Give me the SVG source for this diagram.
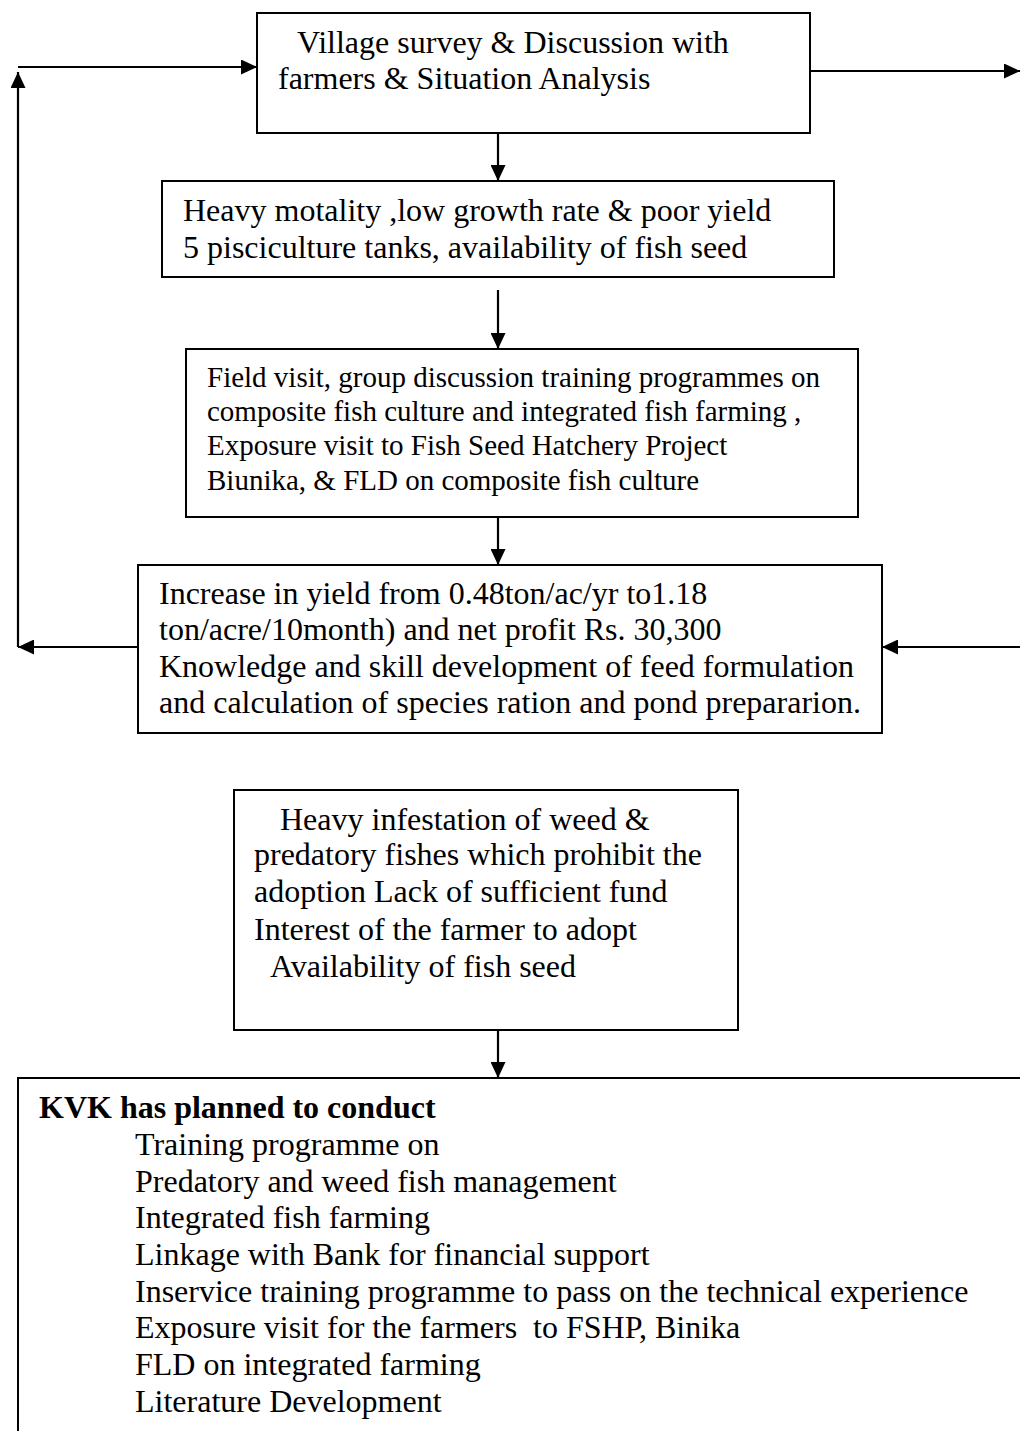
<svg xmlns="http://www.w3.org/2000/svg" width="1020" height="1431" viewBox="0 0 1020 1431">
<style>
.box{fill:#fff;stroke:#000;stroke-width:2}
.t{font-family:"Liberation Serif","Times New Roman",serif;font-size:32px;fill:#000}
.s{font-size:29px}
.b{font-weight:bold}
.c{fill:none;stroke:#000;stroke-width:2.2}
</style>
<defs>
<marker id="ah" viewBox="0 0 16 15" refX="16" refY="7.5" markerWidth="16" markerHeight="15" markerUnits="userSpaceOnUse" orient="auto">
<path d="M0,0 L16,7.5 L0,15 Z" fill="#000"/>
</marker>
</defs>
<rect width="1020" height="1431" fill="#fff"/>
<g id="connectors">
<path class="c" d="M18,67 L257,67" marker-end="url(#ah)"/>
<path class="c" d="M18,647 L18,72" marker-end="url(#ah)"/>
<path class="c" d="M138,647 L18,647" marker-end="url(#ah)"/>
<path class="c" d="M810,71 L1020,71" marker-end="url(#ah)"/>
<path class="c" d="M1020,647 L882,647" marker-end="url(#ah)"/>
<path class="c" d="M498,133 L498,181" marker-end="url(#ah)"/>
<path class="c" d="M498,290 L498,349" marker-end="url(#ah)"/>
<path class="c" d="M498,517 L498,565" marker-end="url(#ah)"/>
<path class="c" d="M498,1030 L498,1078" marker-end="url(#ah)"/>
</g>
<g id="n1">
<rect class="box" x="257" y="13" width="553" height="120"/>
<text class="t" x="297" y="53">Village survey &amp; Discussion with</text>
<text class="t" x="278" y="89">farmers &amp; Situation Analysis</text>
</g>
<g id="n2">
<rect class="box" x="162" y="181" width="672" height="96"/>
<text class="t" x="183" y="221">Heavy motality ,low growth rate &amp; poor yield</text>
<text class="t" x="183" y="258">5 pisciculture tanks, availability of fish seed</text>
</g>
<g id="n3">
<rect class="box" x="186" y="349" width="672" height="168"/>
<text class="t s" x="207" y="387">Field visit, group discussion training programmes on</text>
<text class="t s" x="207" y="421">composite fish culture and integrated fish farming ,</text>
<text class="t s" x="207" y="455">Exposure visit to Fish Seed Hatchery Project</text>
<text class="t s" x="207" y="490">Biunika, &amp; FLD on composite fish culture</text>
</g>
<g id="n4">
<rect class="box" x="138" y="565" width="744" height="168"/>
<text class="t" x="159" y="604">Increase in yield from 0.48ton/ac/yr to1.18</text>
<text class="t" x="159" y="640">ton/acre/10month) and net profit Rs. 30,300</text>
<text class="t" x="159" y="677">Knowledge and skill development of feed formulation</text>
<text class="t" x="159" y="713">and calculation of species ration and pond prepararion.</text>
</g>
<g id="n5">
<rect class="box" x="234" y="790" width="504" height="240"/>
<text class="t" x="280" y="830">Heavy infestation of weed &amp;</text>
<text class="t" x="254" y="865">predatory fishes which prohibit the</text>
<text class="t" x="254" y="902">adoption Lack of sufficient fund</text>
<text class="t" x="254" y="940">Interest of the farmer to adopt</text>
<text class="t" x="270" y="977">Availability of fish seed</text>
</g>
<g id="n6">
<rect class="box" x="18" y="1078" width="1020" height="400"/>
<text class="t b" x="39" y="1118">KVK has planned to conduct</text>
<text class="t" x="135" y="1155">Training programme on</text>
<text class="t" x="135" y="1192">Predatory and weed fish management</text>
<text class="t" x="135" y="1228">Integrated fish farming</text>
<text class="t" x="135" y="1265">Linkage with Bank for financial support</text>
<text class="t" x="135" y="1302">Inservice training programme to pass on the technical experience</text>
<text class="t" x="135" y="1338" xml:space="preserve">Exposure visit for the farmers  to FSHP, Binika</text>
<text class="t" x="135" y="1375">FLD on integrated farming</text>
<text class="t" x="135" y="1412">Literature Development</text>
</g>
</svg>
